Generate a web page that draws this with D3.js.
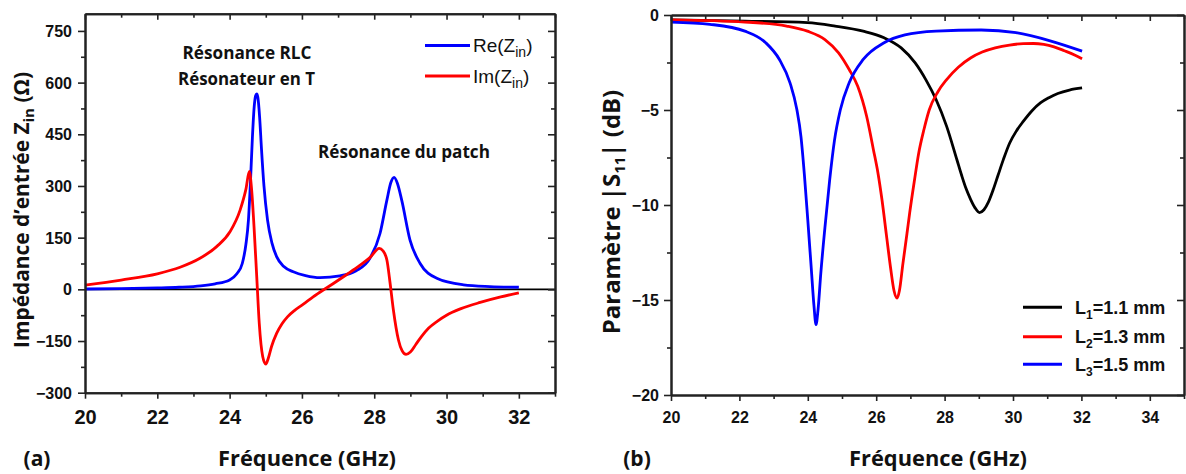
<!DOCTYPE html>
<html><head><meta charset="utf-8">
<script src="https://cdn.jsdelivr.net/npm/d3@7"></script>
<style>body{margin:0;background:#fff}svg{display:block}</style>
</head><body>
<svg id="c" width="1186" height="474"></svg>
<script>
// ---------- data (a) ----------
const reF = [20, 21, 22, 22.6, 23.2, 23.6, 24.0, 24.2, 24.35, 24.45, 24.52, 24.58, 24.63, 24.68, 24.72, 24.75, 24.78, 24.83, 24.88, 24.95, 25.05, 25.17, 25.3, 25.5, 25.76, 26.1, 26.5, 27.05, 27.5, 27.88, 28.16, 28.35, 28.46, 28.55, 28.64, 28.76, 28.99, 29.27, 29.73, 30.47, 31.2, 32];
const reZ = [1, 2, 4, 6, 10, 16, 27, 45, 75, 130, 200, 320, 440, 530, 562, 567, 558, 500, 410, 300, 200, 135, 95, 66, 51, 40, 34, 39, 54, 90, 162, 259, 310, 325, 308, 259, 143, 75, 32, 13, 8, 6];
const imF = [20, 21, 22, 22.63, 23.18, 23.64, 24.01, 24.29, 24.45, 24.545, 24.61, 24.675, 24.75, 24.82, 24.915, 25.0, 25.07, 25.16, 25.3, 25.45, 25.6, 25.8, 26.04, 26.31, 26.59, 26.87, 27.24, 27.61, 27.88, 28.14, 28.24, 28.35, 28.44, 28.53, 28.67, 28.77, 28.88, 29.0, 29.15, 29.3, 29.5, 29.75, 30.0, 30.4, 30.93, 31.5, 32];
const imZ = [12, 27, 45, 64, 90, 124, 167, 230, 290, 342, 288, 182, 37, -99, -195, -217, -200, -166, -128, -100, -80, -61, -43, -22, -2, 17, 43, 70, 92, 119, 112, 85, 17, -60, -147, -178, -189, -182, -160, -138, -113, -92, -75, -56, -38, -22, -10];
const leftXTicks = [20, 22, 24, 26, 28, 30, 32];
const leftXMinor = [21, 23, 25, 27, 29, 31, 33];
const leftYTicks = [-300, -150, 0, 150, 300, 450, 600, 750];
const leftYMinor = [-225, -75, 75, 225, 375, 525, 675];
const leftLegend = ["Re", "Im"];
const leftNotes = ["Résonance RLC", "Résonateur en T", "Résonance du patch"];

// ---------- data (b) ----------
const l1F = [20, 22.16, 23.99, 24.8, 25.62, 26.23, 26.73, 27.14, 27.45, 27.75, 28.06, 28.36, 28.5, 28.63, 28.76, 28.89, 29.02, 29.15, 29.28, 29.42, 29.56, 29.72, 29.9, 30.1, 30.3, 30.55, 30.8, 31.05, 31.31, 31.65, 32.02];
const l1S = [-0.26, -0.32, -0.4, -0.58, -0.85, -1.2, -1.73, -2.52, -3.4, -4.45, -5.86, -7.62, -8.45, -9.15, -9.7, -10.15, -10.4, -10.25, -9.85, -9.2, -8.45, -7.6, -6.75, -6.1, -5.6, -5.05, -4.63, -4.35, -4.13, -3.95, -3.84];
const l2F = [20, 22.16, 23.38, 23.99, 24.5, 24.9, 25.21, 25.46, 25.72, 25.92, 26.05, 26.17, 26.3, 26.42, 26.52, 26.61, 26.68, 26.78, 26.9, 26.98, 27.12, 27.24, 27.4, 27.55, 27.8, 28.06, 28.4, 28.77, 29.1, 29.48, 29.9, 30.3, 30.6, 30.9, 31.2, 31.5, 31.8, 32.02];
const l2S = [-0.26, -0.37, -0.58, -0.85, -1.29, -1.99, -2.87, -3.75, -5.33, -7.1, -8.3, -9.74, -11.6, -13.3, -14.5, -14.9, -14.5, -13.1, -11.5, -10.4, -8.68, -7.3, -6.0, -5.0, -4.05, -3.4, -2.75, -2.25, -1.95, -1.73, -1.58, -1.51, -1.5, -1.55, -1.68, -1.88, -2.1, -2.3];
const l3F = [20, 21.14, 22.16, 22.77, 23.17, 23.48, 23.68, 23.8, 23.9, 24.0, 24.1, 24.18, 24.24, 24.3, 24.38, 24.5, 24.64, 24.78, 24.95, 25.21, 25.62, 26.23, 26.84, 27.75, 29.07, 30.09, 31.11, 32.02];
const l3S = [-0.37, -0.49, -0.85, -1.46, -2.34, -3.57, -4.98, -6.4, -8.4, -10.8, -13.3, -15.3, -16.3, -15.5, -13.6, -11.2, -8.68, -6.6, -5.0, -3.57, -2.34, -1.46, -1.05, -0.85, -0.79, -0.93, -1.37, -1.9];
const rightXTicks = [20, 22, 24, 26, 28, 30, 32, 34];
const rightXMinor = [21, 23, 25, 27, 29, 31, 33, 35];
const rightYTicks = [-20, -15, -10, -5, 0];
const rightYMinor = [-17.5, -12.5, -7.5, -2.5];
const rightLegend = [["1", "=1.1 mm"], ["2", "=1.3 mm"], ["3", "=1.5 mm"]];

// ---------- drawing ----------
const svg = d3.select("#c");
const AX = "#222";
const TF = "'Liberation Sans', Arial, sans-serif";
const TT = "'Open Sans', 'Noto Sans', sans-serif";

function zip(a, b) { return a.map((v, i) => [v, b[i]]); }

function fitText(sel, w) {
  const n = sel.node();
  const fs = parseFloat(sel.attr("font-size"));
  const len = n.getComputedTextLength();
  sel.attr("font-size", (fs * w / len).toFixed(2));
}

function frame(g, x, y, c) {
  const [xa, xb] = x.range(), [yb, ya] = y.range();
  g.append("g").attr("transform", `translate(0,${yb})`)
    .call(d3.axisBottom(x).tickValues(c.xM).tickSize(4).tickSizeOuter(0).tickFormat(""));
  const bx = g.append("g").attr("transform", `translate(0,${yb})`)
    .call(d3.axisBottom(x).tickValues(c.xT).tickSize(6).tickSizeOuter(0));
  bx.selectAll("text").attr("y", c.xLabY).attr("dy", 0)
    .attr("font-size", c.xFs).attr("font-weight", "bold").attr("font-family", TF).attr("fill", "#111");
  g.append("g").attr("transform", `translate(0,${ya})`)
    .call(d3.axisTop(x).tickValues(c.xT).tickSize(-6).tickSizeOuter(0).tickFormat(""));
  g.append("g").attr("transform", `translate(0,${ya})`)
    .call(d3.axisTop(x).tickValues(c.xM).tickSize(-4).tickSizeOuter(0).tickFormat(""));
  g.append("g").attr("transform", `translate(${xa},0)`)
    .call(d3.axisLeft(y).tickValues(c.yM).tickSize(4).tickSizeOuter(0).tickFormat(""));
  const ly = g.append("g").attr("transform", `translate(${xa},0)`)
    .call(d3.axisLeft(y).tickValues(c.yT).tickSize(7).tickSizeOuter(0));
  ly.selectAll("text").attr("x", c.yLabX).attr("dy", "0.35em")
    .attr("font-size", c.yFs).attr("font-weight", "bold").attr("font-family", TF).attr("fill", "#111");
  g.append("g").attr("transform", `translate(${xb},0)`)
    .call(d3.axisRight(y).tickValues(c.yT).tickSize(-7).tickSizeOuter(0).tickFormat(""));
  g.append("g").attr("transform", `translate(${xb},0)`)
    .call(d3.axisRight(y).tickValues(c.yM).tickSize(-4).tickSizeOuter(0).tickFormat(""));
  g.selectAll(".domain").attr("stroke", AX).attr("stroke-width", 2);
  g.selectAll(".tick line").attr("stroke", AX).attr("stroke-width", 1.6);
}

// ===== panel (a) =====
const xA = d3.scaleLinear().domain([20, 33]).range([85, 555]);
const yA = d3.scaleLinear().domain([-300, 800]).range([392.7, 13.7]);
const gA = svg.append("g");
gA.append("line").attr("x1", xA(20)).attr("x2", xA(33)).attr("y1", yA(0)).attr("y2", yA(0))
  .attr("stroke", "#000").attr("stroke-width", 1.6);
const lineA = d3.line().x(d => xA(d[0])).y(d => yA(d[1])).curve(d3.curveMonotoneX);
gA.append("path").attr("d", lineA(zip(reF, reZ))).attr("fill", "none").attr("stroke", "#0000ff").attr("stroke-width", 2.8);
gA.append("path").attr("d", lineA(zip(imF, imZ))).attr("fill", "none").attr("stroke", "#ff0000").attr("stroke-width", 2.8);
frame(gA, xA, yA, { xT: leftXTicks, xM: leftXMinor, yT: leftYTicks, yM: leftYMinor, xLabY: 31.6, xFs: 20, yLabX: -13, yFs: 16 });

const legCol = ["#0000ff", "#ff0000"];
leftLegend.forEach((nm, i) => {
  const ly = 45.5 + i * 30.5;
  gA.append("line").attr("x1", 425).attr("x2", 470).attr("y1", ly).attr("y2", ly)
    .attr("stroke", legCol[i]).attr("stroke-width", 2.8);
  const t = gA.append("text").attr("x", 473).attr("y", ly + 6.5).attr("font-family", TF)
    .attr("font-size", 19).attr("fill", "#111");
  t.append("tspan").text(nm + "(Z");
  t.append("tspan").attr("font-size", 14).attr("dy", 5).text("in");
  t.append("tspan").attr("dy", -5).text(")");
});
const noteXY = [[247, 59], [246.5, 85], [404, 158]];
const noteW = [129, 137, 172];
leftNotes.forEach((s, i) => {
  const t = gA.append("text").attr("x", noteXY[i][0]).attr("y", noteXY[i][1]).attr("text-anchor", "middle")
    .attr("font-family", TT).attr("font-weight", "bold").attr("font-size", 16).attr("fill", "#111").text(s);
  fitText(t, noteW[i]);
});
const tyA = gA.append("text").attr("transform", "translate(29,210) rotate(-90)").attr("text-anchor", "middle")
  .attr("font-family", TT).attr("font-weight", "bold").attr("font-size", 21).attr("fill", "#111");
tyA.append("tspan").text("Impédance d’entrée Z");
tyA.append("tspan").attr("font-size", 15).attr("dy", 5).text("in");
tyA.append("tspan").attr("dy", -5).text(" (Ω)");
fitText(tyA, 276);
const txA = gA.append("text").attr("x", 307).attr("y", 466).attr("text-anchor", "middle")
  .attr("font-family", TT).attr("font-weight", "bold").attr("font-size", 22).attr("fill", "#111").text("Fréquence (GHz)");
fitText(txA, 178);
gA.append("text").attr("x", 37).attr("y", 466).attr("text-anchor", "middle")
  .attr("font-family", TT).attr("font-weight", "bold").attr("font-size", 21).attr("fill", "#111").text("(a)");

// ===== panel (b) =====
const xB = d3.scaleLinear().domain([20, 35]).range([671, 1184]);
const yB = d3.scaleLinear().domain([-20, 0]).range([395, 15]);
const gB = svg.append("g");
const lineB = d3.line().x(d => xB(d[0])).y(d => yB(d[1])).curve(d3.curveMonotoneX);
const serB = [[l1F, l1S, "#000000"], [l2F, l2S, "#ff0000"], [l3F, l3S, "#0000ff"]];
serB.forEach(s => {
  gB.append("path").attr("d", lineB(zip(s[0], s[1]))).attr("fill", "none").attr("stroke", s[2]).attr("stroke-width", 2.8);
});
frame(gB, xB, yB, { xT: rightXTicks, xM: rightXMinor, yT: rightYTicks, yM: rightYMinor, xLabY: 27.5, xFs: 16, yLabX: -12, yFs: 16 });
rightLegend.forEach((lab, i) => {
  const ly = [307.3, 336.7, 364.3][i];
  gB.append("line").attr("x1", 1023).attr("x2", 1062).attr("y1", ly).attr("y2", ly)
    .attr("stroke", serB[i][2]).attr("stroke-width", 3);
  const t = gB.append("text").attr("x", 1075).attr("y", ly + 6.5).attr("font-family", TF)
    .attr("font-weight", "bold").attr("font-size", 18).attr("fill", "#111");
  t.append("tspan").text("L");
  t.append("tspan").attr("font-size", 12).attr("dy", 5).text(lab[0]);
  t.append("tspan").attr("dy", -5).text(lab[1]);
});
const tyB = gB.append("text").attr("transform", "translate(620,212) rotate(-90)").attr("text-anchor", "middle")
  .attr("font-family", TT).attr("font-weight", "bold").attr("font-size", 21).attr("fill", "#111");
tyB.append("tspan").text("Paramètre |S");
tyB.append("tspan").attr("font-size", 15).attr("dy", 5).text("11");
tyB.append("tspan").attr("dy", -5).text("| (dB)");
fitText(tyB, 247);
const txB = gB.append("text").attr("x", 938).attr("y", 466).attr("text-anchor", "middle")
  .attr("font-family", TT).attr("font-weight", "bold").attr("font-size", 22).attr("fill", "#111").text("Fréquence (GHz)");
fitText(txB, 178);
gB.append("text").attr("x", 637).attr("y", 466).attr("text-anchor", "middle")
  .attr("font-family", TT).attr("font-weight", "bold").attr("font-size", 21).attr("fill", "#111").text("(b)");
</script>
</body></html>
